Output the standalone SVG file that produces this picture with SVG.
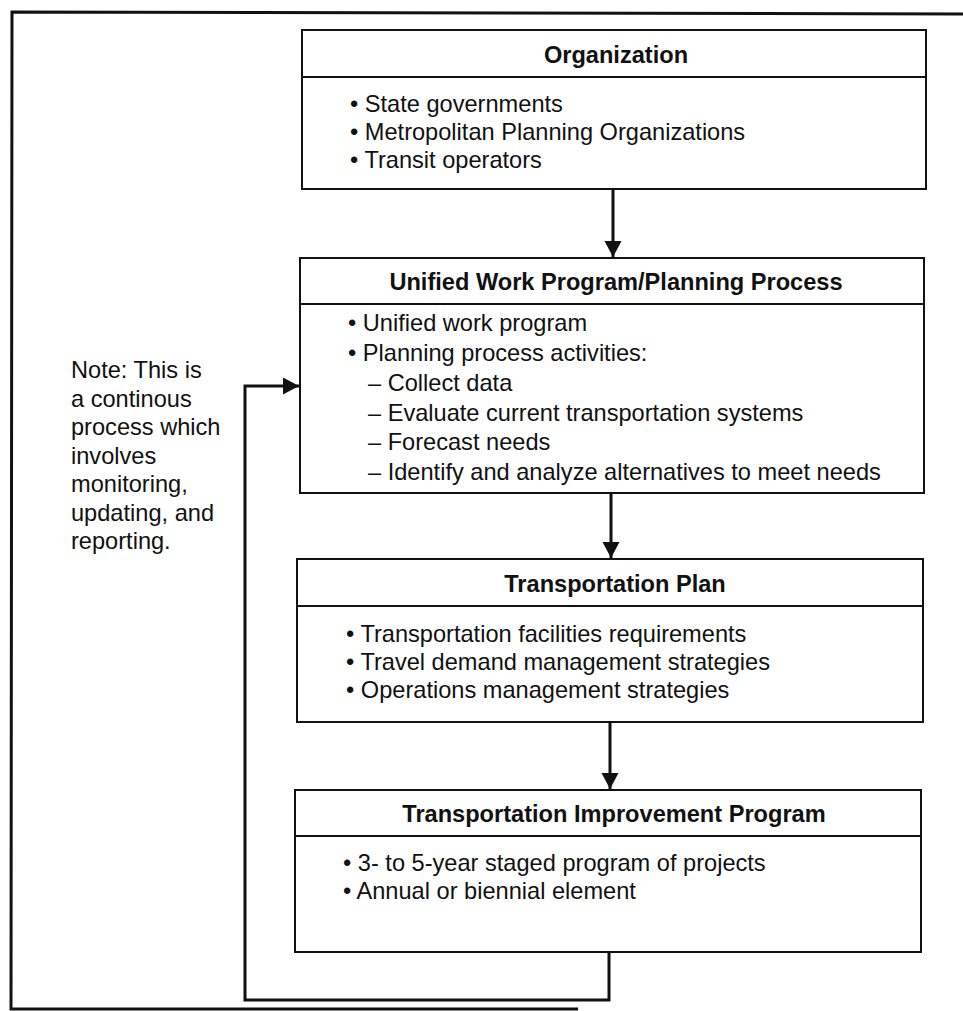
<svg xmlns="http://www.w3.org/2000/svg" width="963" height="1011" viewBox="0 0 963 1011">
<style>
.box{fill:#fff;stroke:#111;stroke-width:2}
.div{stroke:#111;stroke-width:2}
.hd{font-family:"Liberation Sans",Arial,sans-serif;font-size:23.6px;font-weight:bold;fill:#111;text-anchor:middle}
.tx{font-family:"Liberation Sans",Arial,sans-serif;font-size:23.6px;fill:#111}
.cn{fill:none;stroke:#111;stroke-width:3}
.frame{fill:none;stroke:#111;stroke-width:3}
</style>
<defs>
<marker id="ah" markerUnits="userSpaceOnUse" markerWidth="18" markerHeight="18" refX="16" refY="8.5" orient="auto">
<path d="M0,0 L16,8.5 L0,17 z" fill="#111"/>
</marker>
</defs>
<rect width="963" height="1011" fill="#fff"/>
<path class="frame" d="M963,14 L12,12 L11,1009 L578,1009"/>

<g id="connectors">
<path class="cn" d="M613,189 V257" marker-end="url(#ah)"/>
<path class="cn" d="M611,493 V558" marker-end="url(#ah)"/>
<path class="cn" d="M610,722 V789" marker-end="url(#ah)"/>
<path class="cn" d="M609,952 V1000 H245 V386 H299" marker-end="url(#ah)"/>
</g>

<g id="organization">
<rect class="box" x="302" y="30" width="624" height="159"/>
<line class="div" x1="302" y1="77" x2="926" y2="77"/>
<text class="hd" x="616" y="63">Organization</text>
<text class="tx" x="350" y="112">• State governments</text>
<text class="tx" x="350" y="140">• Metropolitan Planning Organizations</text>
<text class="tx" x="350" y="168">• Transit operators</text>
</g>

<g id="unified-work-program">
<rect class="box" x="300" y="258" width="624" height="235"/>
<line class="div" x1="300" y1="304" x2="924" y2="304"/>
<text class="hd" x="616" y="290">Unified Work Program/Planning Process</text>
<text class="tx" x="348" y="331">• Unified work program</text>
<text class="tx" x="348" y="361">• Planning process activities:</text>
<text class="tx" x="368" y="391">– Collect data</text>
<text class="tx" x="368" y="421">– Evaluate current transportation systems</text>
<text class="tx" x="368" y="450">– Forecast needs</text>
<text class="tx" x="368" y="480">– Identify and analyze alternatives to meet needs</text>
</g>

<g id="transportation-plan">
<rect class="box" x="297" y="559" width="626" height="163"/>
<line class="div" x1="297" y1="606" x2="923" y2="606"/>
<text class="hd" x="615" y="592">Transportation Plan</text>
<text class="tx" x="346" y="642">• Transportation facilities requirements</text>
<text class="tx" x="346" y="670">• Travel demand management strategies</text>
<text class="tx" x="346" y="698">• Operations management strategies</text>
</g>

<g id="transportation-improvement-program">
<rect class="box" x="295" y="790" width="626" height="162"/>
<line class="div" x1="295" y1="836" x2="921" y2="836"/>
<text class="hd" x="614" y="822">Transportation Improvement Program</text>
<text class="tx" x="343" y="871">• 3- to 5-year staged program of projects</text>
<text class="tx" x="343" y="899">• Annual or biennial element</text>
</g>

<g id="note">
<text class="tx" x="71" y="378">Note: This is</text>
<text class="tx" x="71" y="406.5">a continous</text>
<text class="tx" x="71" y="435">process which</text>
<text class="tx" x="71" y="463.5">involves</text>
<text class="tx" x="71" y="492">monitoring,</text>
<text class="tx" x="71" y="520.5">updating, and</text>
<text class="tx" x="71" y="549">reporting.</text>
</g>
</svg>
